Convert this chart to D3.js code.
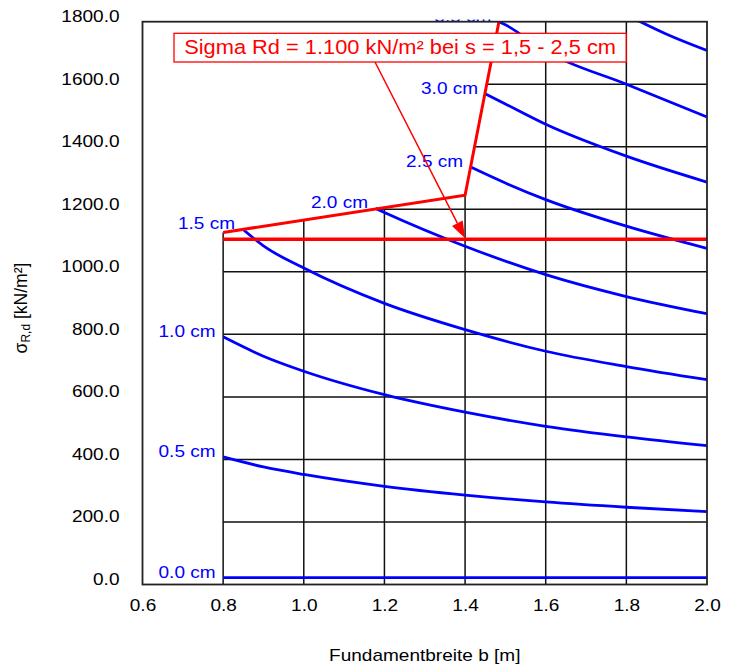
<!DOCTYPE html>
<html>
<head>
<meta charset="utf-8">
<script src="https://cdn.jsdelivr.net/npm/d3@7"></script>
<style>
  html, body { margin: 0; padding: 0; background: #fff; }
  svg { display: block; }
  text { font-family: "Liberation Sans", Arial, sans-serif; }
</style>
</head>
<body>
<svg id="chart" width="735" height="665"></svg>
<script>
// ---------------- data ----------------
const xTickValues = [0.6, 0.8, 1.0, 1.2, 1.4, 1.6, 1.8, 2.0];
const yTickValues = [0, 200, 400, 600, 800, 1000, 1200, 1400, 1600, 1800];

const seriesNames = ["0.0 cm", "0.5 cm", "1.0 cm", "1.5 cm", "2.0 cm", "2.5 cm", "3.0 cm", "3.5 cm", "4.0 cm"];

const s00_b = [0.8, 1.0, 1.2, 1.4, 1.6, 1.8, 2.0];
const s00_v = [22, 22, 22, 22, 22, 22, 22];
const s05_b = [0.8, 0.9, 1.0, 1.2, 1.4, 1.6, 1.8, 2.0];
const s05_v = [408, 376, 352, 314, 286, 264, 247, 233];
const s10_b = [0.8, 0.9, 1.0, 1.2, 1.4, 1.6, 1.8, 2.0];
const s10_v = [792, 730, 682, 607, 551, 506, 472, 444];
const s15_b = [0.848, 0.9, 1.0, 1.2, 1.4, 1.6, 1.8, 2.0];
const s15_v = [1137, 1083, 1012, 899, 815, 746, 697, 655];
const s20_b = [1.178, 1.2, 1.4, 1.6, 1.8, 2.0];
const s20_v = [1203, 1190, 1082, 991, 921, 866];
const s25_b = [1.414, 1.5, 1.6, 1.8, 2.0];
const s25_v = [1335, 1284, 1231, 1146, 1075];
const s30_b = [1.451, 1.5, 1.6, 1.8, 2.0];
const s30_v = [1569, 1537, 1472, 1370, 1287];
const s35_b = [1.484, 1.5, 1.6, 1.8, 2.0];
const s35_v = [1800, 1790, 1705, 1600, 1495];
const s40_b = [1.8, 1.9, 2.0];
const s40_v = [1822, 1760, 1708];

const seriesB = [s00_b, s05_b, s10_b, s15_b, s20_b, s25_b, s30_b, s35_b, s40_b];
const seriesV = [s00_v, s05_v, s10_v, s15_v, s20_v, s25_v, s30_v, s35_v, s40_v];
const labelled = [true, true, true, true, true, true, true, true, false];

// limit line (boundary of valid region)
const boundB = [0.8, 1.4, 1.484];
const boundV = [1126, 1245, 1800];
// design value line
const designB = [0.8, 2.0];
const designV = [1104, 1104];

const annotationText = "Sigma Rd = 1.100 kN/m² bei s = 1,5 - 2,5 cm";
const annotationTarget = [1.4, 1104];

const gridB = [0.8, 1.0, 1.2, 1.4, 1.6, 1.8];
const gridV = [200, 400, 600, 800, 1000, 1200, 1400, 1600];

const xTitle = "Fundamentbreite b [m]";

// ---------------- layout ----------------
const X0 = 142.5, X1 = 707, Y0 = 584.5, Y1 = 21.7;
const STRETCH = 1.12;
const BLUE = "#0000ff", RED = "#ff0000";

const svg = d3.select("#chart");
const x = d3.scaleLinear().domain([0.6, 2.0]).range([X0, X1]);
const y = d3.scaleLinear().domain([0, 1800]).range([Y0, Y1]);

const defs = svg.append("defs");
defs.append("clipPath").attr("id", "plotclip")
  .append("rect").attr("x", X0).attr("y", Y1).attr("width", X1 - X0).attr("height", Y0 - Y1);
defs.append("clipPath").attr("id", "labelclip")
  .append("rect").attr("x", X0).attr("y", 19.5).attr("width", X1 - X0).attr("height", Y0 - 19.5);

// boundary helpers
function boundAt(b) {
  if (b > boundB[boundB.length - 1]) return Infinity;
  for (let i = 0; i < boundB.length - 1; i++) {
    if (b >= boundB[i] && b <= boundB[i + 1]) {
      const t = (b - boundB[i]) / (boundB[i + 1] - boundB[i]);
      return boundV[i] + t * (boundV[i + 1] - boundV[i]);
    }
  }
  return boundV[0];
}
function boundInv(v) {
  if (v <= boundV[0]) return boundB[0];
  for (let i = 0; i < boundV.length - 1; i++) {
    if (v >= boundV[i] && v <= boundV[i + 1]) {
      const t = (v - boundV[i]) / (boundV[i + 1] - boundV[i]);
      return boundB[i] + t * (boundB[i + 1] - boundB[i]);
    }
  }
  return boundB[boundB.length - 1];
}

// ---------------- grid ----------------
const grid = svg.append("g").attr("stroke", "#111").attr("stroke-width", 1.5);
gridB.forEach(b => {
  const top = Math.min(1800, boundAt(b));
  grid.append("line").attr("x1", x(b)).attr("x2", x(b)).attr("y1", y(0)).attr("y2", y(top));
});
gridV.forEach(v => {
  grid.append("line").attr("x1", x(boundInv(v))).attr("x2", x(2.0)).attr("y1", y(v)).attr("y2", y(v));
});

// ---------------- curves ----------------
const line = d3.line().x(d => x(d[0])).y(d => y(d[1])).curve(d3.curveMonotoneX);
const curves = svg.append("g").attr("clip-path", "url(#plotclip)");
seriesB.forEach((bs, i) => {
  const pts = bs.map((b, j) => [b, seriesV[i][j]]);
  curves.append("path").attr("d", line(pts))
    .attr("fill", "none").attr("stroke", BLUE).attr("stroke-width", 2.8);
});

// boundary + design line
const straight = d3.line().x(d => x(d[0])).y(d => y(d[1]));
const bpts = boundB.map((b, i) => [b, boundV[i]]);
curves.append("path").attr("d", straight(bpts))
  .attr("fill", "none").attr("stroke", RED).attr("stroke-width", 3).attr("stroke-linejoin", "miter");
const dpts = designB.map((b, i) => [b, designV[i]]);
curves.append("path").attr("d", straight(dpts))
  .attr("fill", "none").attr("stroke", RED).attr("stroke-width", 3.6);

// series labels
const labels = svg.append("g").attr("clip-path", "url(#labelclip)");
seriesB.forEach((bs, i) => {
  if (!labelled[i]) return;
  const sx = x(bs[0]), sy = y(seriesV[i][0]);
  labels.append("text")
    .attr("transform", `translate(${sx - 7.5},${sy}) scale(${STRETCH},1)`)
    .attr("text-anchor", "end").attr("font-size", 17).attr("fill", BLUE)
    .text(seriesNames[i]);
});

// ---------------- annotation ----------------
const boxLeft = 174, boxTop = 33.3, boxH = 28.7;
const ann = svg.append("g");
const annText = ann.append("text").attr("font-size", 19.5).attr("fill", RED).text(annotationText);
const tw = annText.node().getComputedTextLength() * STRETCH;
const boxW = tw + 20;
annText.attr("text-anchor", "middle")
  .attr("transform", `translate(${boxLeft + boxW / 2},${boxTop + 21}) scale(${STRETCH},1)`);
// arrow
const ax0 = boxLeft + 201, ay0 = boxTop + boxH;
const ax1 = x(annotationTarget[0]), ay1 = y(annotationTarget[1]) - 1;
const ang = Math.atan2(ay1 - ay0, ax1 - ax0);
const hl = 17, hw = 6;
const bx = ax1 - hl * Math.cos(ang), by = ay1 - hl * Math.sin(ang);
ann.insert("line", "text").attr("x1", ax0).attr("y1", ay0).attr("x2", bx).attr("y2", by)
  .attr("stroke", RED).attr("stroke-width", 1.5);
ann.insert("path", "text").attr("d",
  `M${ax1},${ay1} L${bx + hw * Math.sin(ang)},${by - hw * Math.cos(ang)} L${bx - hw * Math.sin(ang)},${by + hw * Math.cos(ang)} Z`)
  .attr("fill", RED);
ann.insert("rect", "text").attr("x", boxLeft).attr("y", boxTop).attr("width", boxW).attr("height", boxH)
  .attr("fill", "#fff").attr("stroke", RED).attr("stroke-width", 1.3);

// ---------------- frame & axes ----------------
svg.append("rect").attr("x", X0).attr("y", Y1).attr("width", X1 - X0).attr("height", Y0 - Y1)
  .attr("fill", "none").attr("stroke", "#222").attr("stroke-width", 1.8);

const yAxis = svg.append("g").attr("transform", `translate(${X0},0)`)
  .call(d3.axisLeft(y).tickValues(yTickValues).tickSize(0).tickFormat(d3.format(".1f")));
yAxis.select(".domain").remove();
yAxis.selectAll("text")
  .attr("x", 0).attr("dy", 0).attr("text-anchor", "end")
  .attr("transform", `translate(-23,0) scale(${STRETCH},1)`)
  .attr("font-size", 17).attr("font-family", "Liberation Sans, Arial, sans-serif").attr("fill", "#000");

const xAxis = svg.append("g").attr("transform", `translate(0,${Y0})`)
  .call(d3.axisBottom(x).tickValues(xTickValues).tickSize(0).tickFormat(d3.format(".1f")));
xAxis.select(".domain").remove();
xAxis.selectAll("text")
  .attr("y", 0).attr("dy", 0).attr("text-anchor", "middle")
  .attr("transform", `translate(0,26.5) scale(${STRETCH},1)`)
  .attr("font-size", 17).attr("font-family", "Liberation Sans, Arial, sans-serif").attr("fill", "#000");

// axis titles
svg.append("text")
  .attr("transform", `translate(${(X0 + X1) / 2},661) scale(${STRETCH},1)`)
  .attr("text-anchor", "middle").attr("font-size", 17).attr("fill", "#000").text(xTitle);

const yt = svg.append("text")
  .attr("transform", `translate(27,308) rotate(-90)`)
  .attr("text-anchor", "middle").attr("font-size", 17.5).attr("fill", "#000");
yt.append("tspan").text("σ");
yt.append("tspan").attr("font-size", 12).attr("dy", 3).text("R,d");
yt.append("tspan").attr("dy", -3).text(" [kN/m²]");
</script>
</body>
</html>
